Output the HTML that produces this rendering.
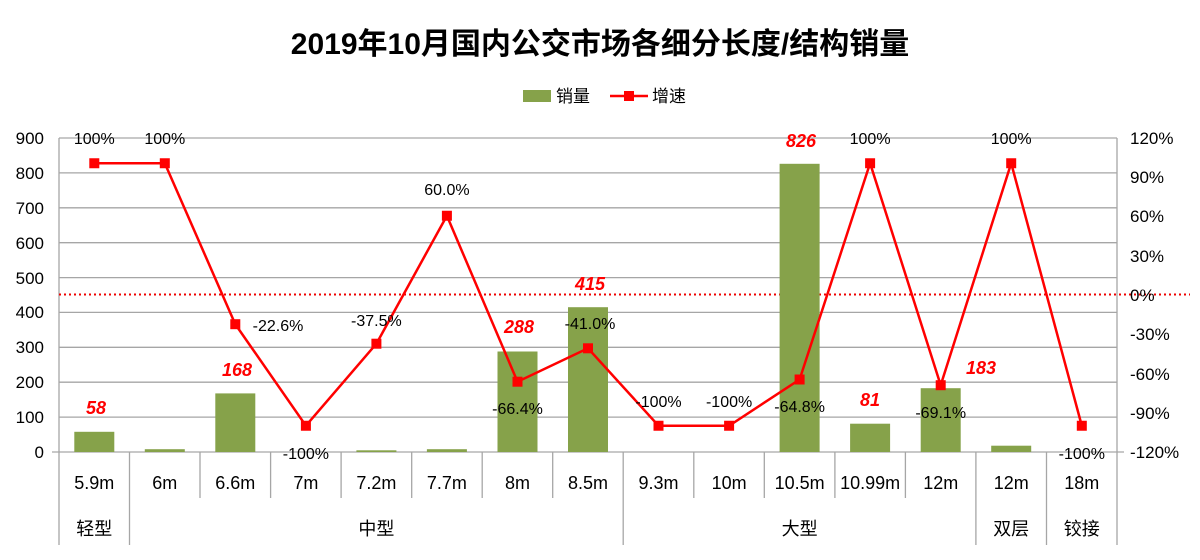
<!DOCTYPE html>
<html><head><meta charset="utf-8"><style>
body{margin:0;background:#fff}
svg text{font-family:"Liberation Sans","Noto Sans CJK SC",sans-serif}
</style></head><body>
<svg width="1200" height="555" xmlns="http://www.w3.org/2000/svg">
<text x="600" y="54" text-anchor="middle" font-size="30" font-weight="bold" fill="#000">2019年10月国内公交市场各细分长度/结构销量</text>
<rect x="523" y="90" width="28" height="12" fill="#86a24a"/>
<text x="556" y="102" font-size="17">销量</text>
<line x1="610" y1="96" x2="648" y2="96" stroke="#f00" stroke-width="2.5"/>
<rect x="624" y="91" width="10" height="10" fill="#f00"/>
<text x="652" y="102" font-size="17">增速</text>
<g stroke="#a6a6a6" stroke-width="1.3">
<line x1="59" y1="138" x2="1117" y2="138"/><line x1="59" y1="172.9" x2="1117" y2="172.9"/><line x1="59" y1="207.8" x2="1117" y2="207.8"/><line x1="59" y1="242.7" x2="1117" y2="242.7"/><line x1="59" y1="277.6" x2="1117" y2="277.6"/><line x1="59" y1="312.4" x2="1117" y2="312.4"/><line x1="59" y1="347.3" x2="1117" y2="347.3"/><line x1="59" y1="382.2" x2="1117" y2="382.2"/><line x1="59" y1="417.1" x2="1117" y2="417.1"/><line x1="52" y1="452" x2="1124" y2="452"/>
<line x1="59" y1="138" x2="59" y2="545"/><line x1="1117" y1="138" x2="1117" y2="545"/>
<line x1="129.5" y1="452" x2="129.5" y2="545"/><line x1="200" y1="452" x2="200" y2="498"/><line x1="270.6" y1="452" x2="270.6" y2="498"/><line x1="341.1" y1="452" x2="341.1" y2="498"/><line x1="411.7" y1="452" x2="411.7" y2="498"/><line x1="482.2" y1="452" x2="482.2" y2="498"/><line x1="552.7" y1="452" x2="552.7" y2="498"/><line x1="623.2" y1="452" x2="623.2" y2="545"/><line x1="693.8" y1="452" x2="693.8" y2="498"/><line x1="764.3" y1="452" x2="764.3" y2="498"/><line x1="834.9" y1="452" x2="834.9" y2="498"/><line x1="905.4" y1="452" x2="905.4" y2="498"/><line x1="975.9" y1="452" x2="975.9" y2="545"/><line x1="1046.5" y1="452" x2="1046.5" y2="545"/>
</g>
<line x1="59" y1="294.5" x2="1190" y2="294.5" stroke="#e00" stroke-width="2" stroke-dasharray="2,3"/>
<g font-size="17" fill="#000" text-anchor="end">
<text x="44" y="144">900</text><text x="44" y="179">800</text><text x="44" y="214">700</text><text x="44" y="249">600</text><text x="44" y="284">500</text><text x="44" y="318">400</text><text x="44" y="353">300</text><text x="44" y="388">200</text><text x="44" y="423">100</text><text x="44" y="458">0</text>
</g>
<g font-size="17" fill="#000" text-anchor="start">
<text x="1130" y="144">120%</text><text x="1130" y="183">90%</text><text x="1130" y="222">60%</text><text x="1130" y="262">30%</text><text x="1130" y="301">0%</text><text x="1130" y="340">-30%</text><text x="1130" y="380">-60%</text><text x="1130" y="419">-90%</text><text x="1130" y="458">-120%</text>
</g>
<g fill="#86a24a">
<rect x="74.3" y="431.8" width="40" height="20.2"/><rect x="144.8" y="449.2" width="40" height="2.8"/><rect x="215.3" y="393.4" width="40" height="58.6"/><rect x="356.4" y="450.3" width="40" height="1.7"/><rect x="426.9" y="449.2" width="40" height="2.8"/><rect x="497.5" y="351.5" width="40" height="100.5"/><rect x="568" y="307.2" width="40" height="144.8"/><rect x="779.6" y="163.8" width="40" height="288.2"/><rect x="850.1" y="423.7" width="40" height="28.3"/><rect x="920.7" y="388.2" width="40" height="63.8"/><rect x="991.2" y="445.7" width="40" height="6.3"/>
</g>
<polyline fill="none" stroke="#f00" stroke-width="2.5" points="94.3,163.25 164.8,163.25 235.3,324.2 305.9,425.75 376.4,343.7 446.9,215.75 517.5,381.7 588,348.3 658.5,425.75 729.1,425.75 799.6,379.5 870.1,163.25 940.7,385.2 1011.2,163.25 1081.8,425.75"/>
<g fill="#f00">
<rect x="89.3" y="158.25" width="10" height="10"/><rect x="159.8" y="158.25" width="10" height="10"/><rect x="230.3" y="319.2" width="10" height="10"/><rect x="300.9" y="420.75" width="10" height="10"/><rect x="371.4" y="338.7" width="10" height="10"/><rect x="441.9" y="210.75" width="10" height="10"/><rect x="512.5" y="376.7" width="10" height="10"/><rect x="583" y="343.3" width="10" height="10"/><rect x="653.5" y="420.75" width="10" height="10"/><rect x="724.1" y="420.75" width="10" height="10"/><rect x="794.6" y="374.5" width="10" height="10"/><rect x="865.1" y="158.25" width="10" height="10"/><rect x="935.7" y="380.2" width="10" height="10"/><rect x="1006.2" y="158.25" width="10" height="10"/><rect x="1076.8" y="420.75" width="10" height="10"/>
</g>
<g font-size="16" fill="#000" text-anchor="middle">
<text x="94.3" y="144">100%</text><text x="164.8" y="144">100%</text><text x="278" y="331">-22.6%</text><text x="305.9" y="459">-100%</text><text x="376.4" y="326">-37.5%</text><text x="446.9" y="195">60.0%</text><text x="517.5" y="414">-66.4%</text><text x="590" y="329">-41.0%</text><text x="658.5" y="407">-100%</text><text x="729.1" y="407">-100%</text><text x="799.6" y="412">-64.8%</text><text x="870.1" y="144">100%</text><text x="940.7" y="418">-69.1%</text><text x="1011.2" y="144">100%</text><text x="1081.8" y="459">-100%</text>
</g>
<g font-size="18" fill="#f00" font-weight="bold" font-style="italic" text-anchor="middle">
<text x="96" y="414">58</text><text x="237" y="376">168</text><text x="519" y="333">288</text><text x="590" y="290">415</text><text x="801" y="147">826</text><text x="870" y="406">81</text><text x="981" y="374">183</text>
</g>
<g font-size="18" fill="#000" text-anchor="middle">
<text x="94.3" y="489">5.9m</text><text x="164.8" y="489">6m</text><text x="235.3" y="489">6.6m</text><text x="305.9" y="489">7m</text><text x="376.4" y="489">7.2m</text><text x="446.9" y="489">7.7m</text><text x="517.5" y="489">8m</text><text x="588" y="489">8.5m</text><text x="658.5" y="489">9.3m</text><text x="729.1" y="489">10m</text><text x="799.6" y="489">10.5m</text><text x="870.1" y="489">10.99m</text><text x="940.7" y="489">12m</text><text x="1011.2" y="489">12m</text><text x="1081.8" y="489">18m</text>
<text x="94.3" y="535">轻型</text><text x="376.4" y="535">中型</text><text x="799.6" y="535">大型</text><text x="1011.2" y="535">双层</text><text x="1081.8" y="535">铰接</text>
</g>
</svg>
</body></html>
